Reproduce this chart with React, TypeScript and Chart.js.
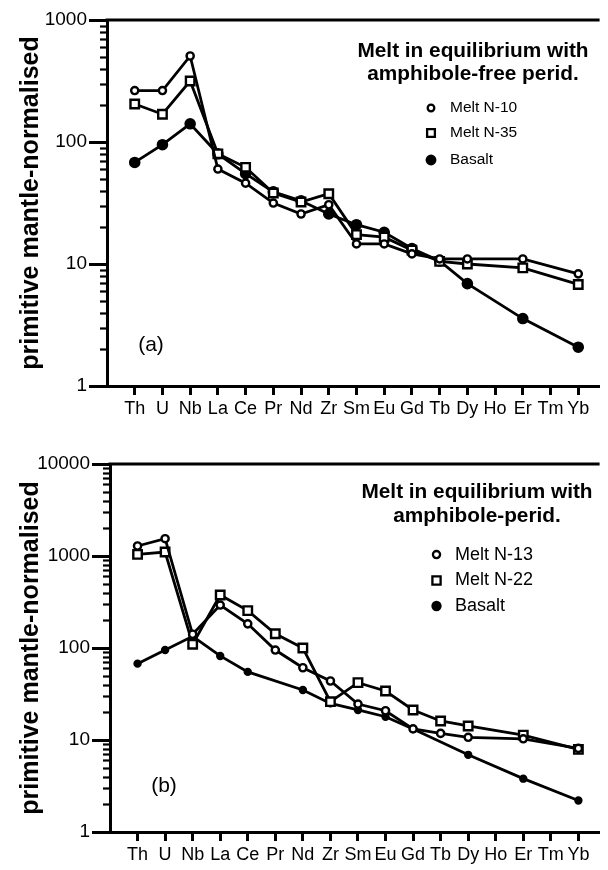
import { useEffect, useRef } from 'react';
import { Chart, registerables } from 'chart.js';

Chart.register(...registerables);

const FONT = "'Liberation Sans', Arial, Helvetica, sans-serif";

// Element order of the spider diagram (x axis)
const elements = ['Th', 'U', 'Nb', 'La', 'Ce', 'Pr', 'Nd', 'Zr', 'Sm', 'Eu', 'Gd', 'Tb', 'Dy', 'Ho', 'Er', 'Tm', 'Yb'];

// (a) melts in equilibrium with amphibole-free peridotite
const meltN10 = [264, 264, 507, 60, 46, 31.6, 25.7, 30.6, 14.6, 14.6, 12.1, 11, 11, null, 11, null, 8.3];
const meltN35 = [205, 169, 316, 80, 62, 38.2, 32.2, 37.7, 17.4, 16.6, 13, 10.5, 10, null, 9.3, null, 6.8];
const basaltA = [68, 95, 141, 80, 55, 39, 33, 25.7, 21, 18.2, 13.4, 10.6, 6.9, null, 3.57, null, 2.08];

// (b) melts in equilibrium with amphibole peridotite
const meltN13 = [1285, 1541, 141, 293, 183, 95, 61, 43.8, 24.6, 20.8, 13.2, 11.8, 10.7, null, 10.3, null, 8.1];
const meltN22 = [1042, 1104, 110, 377, 255, 143, 100, 26.1, 42, 34.1, 21.2, 16.1, 14.2, null, 11.3, null, 7.9];
const basaltB = [67.6, 95, 134, 82, 55, null, 35, 25, 21.2, 17.9, 13.2, null, 6.9, null, 3.8, null, 2.2];

const yTicksA = [1, 10, 100, 1000];
const yTicksB = [1, 10, 100, 1000, 10000];

const yTitle = 'primitive mantle-normalised';

type Marker = 'open-circle' | 'open-square' | 'dot';

type Series = { label: string; values: (number | null)[]; marker: Marker; radius: number; legendRadius: number };

type PanelSpec = {
  top: number;
  height: number;
  axisLeft: number;
  plotTop: number;
  plotBottom: number;
  yTicks: number[];
  series: Series[];
  heading: string[];
  headingX: number;
  headingY: number[];
  legendMarkX: number;
  legendTextX: number;
  legendY: number[];
  legendFontSize: number;
  tag: string;
  tagX: number;
  tagY: number;
};

const panels: PanelSpec[] = [
  {
    top: 0,
    height: 430,
    axisLeft: 107,
    plotTop: 20,
    plotBottom: 386,
    yTicks: yTicksA,
    series: [
      { label: 'Melt N-10', values: meltN10, marker: 'open-circle', radius: 3.6, legendRadius: 3.3 },
      { label: 'Melt N-35', values: meltN35, marker: 'open-square', radius: 6, legendRadius: 5.5 },
      { label: 'Basalt', values: basaltA, marker: 'dot', radius: 4.6, legendRadius: 4.3 },
    ],
    heading: ['Melt in equilibrium with', 'amphibole-free perid.'],
    headingX: 473,
    headingY: [51, 74],
    legendMarkX: 431,
    legendTextX: 450,
    legendY: [108, 133, 160],
    legendFontSize: 15.5,
    tag: '(a)',
    tagX: 151,
    tagY: 345,
  },
  {
    top: 430,
    height: 440,
    axisLeft: 110,
    plotTop: 34,
    plotBottom: 402,
    yTicks: yTicksB,
    series: [
      { label: 'Melt N-13', values: meltN13, marker: 'open-circle', radius: 3.6, legendRadius: 3.6 },
      { label: 'Melt N-22', values: meltN22, marker: 'open-square', radius: 6, legendRadius: 5.8 },
      { label: 'Basalt', values: basaltB, marker: 'dot', radius: 3, legendRadius: 4 },
    ],
    heading: ['Melt in equilibrium with', 'amphibole-perid.'],
    headingX: 477,
    headingY: [62, 86],
    legendMarkX: 436.5,
    legendTextX: 455,
    legendY: [124.6, 150.5, 176],
    legendFontSize: 18,
    tag: '(b)',
    tagX: 164,
    tagY: 356,
  },
];

function drawMarker(ctx: CanvasRenderingContext2D, marker: Marker, x: number, y: number, r: number) {
  ctx.save();
  ctx.strokeStyle = '#000';
  ctx.lineWidth = 2.3;
  ctx.fillStyle = marker === 'dot' ? '#000' : '#fff';
  ctx.beginPath();
  if (marker === 'open-square') {
    const s = r * Math.SQRT1_2;
    ctx.rect(x - s, y - s, 2 * s, 2 * s);
  } else {
    ctx.arc(x, y, r, 0, Math.PI * 2);
  }
  ctx.fill();
  ctx.stroke();
  ctx.restore();
}

// Minor log ticks, the frame's top edge, the heading, legend and panel tag
const decorPlugin = {
  id: 'decor',
  afterDraw(chart: any, _args: any, opts: any) {
    const spec: PanelSpec = opts.spec;
    const { ctx, chartArea } = chart;
    const y = chart.scales.y;
    ctx.save();
    ctx.strokeStyle = '#000';
    ctx.lineCap = 'butt';

    // minor ticks on the log axis
    ctx.lineWidth = 2.2;
    const maxV = spec.yTicks[spec.yTicks.length - 1];
    for (let d = 1; d < maxV; d *= 10) {
      for (let m = 2; m <= 9; m++) {
        const py = Math.round(y.getPixelForValue(m * d)) + 0.5;
        ctx.beginPath();
        ctx.moveTo(chartArea.left - 7, py);
        ctx.lineTo(chartArea.left, py);
        ctx.stroke();
      }
    }

    // top edge of the frame
    ctx.lineWidth = 3;
    ctx.beginPath();
    ctx.moveTo(chartArea.left - 1.5, chartArea.top);
    ctx.lineTo(chartArea.right, chartArea.top);
    ctx.stroke();

    // heading
    ctx.fillStyle = '#000';
    ctx.textAlign = 'center';
    ctx.textBaseline = 'middle';
    ctx.font = `bold 20.8px ${FONT}`;
    spec.heading.forEach((line, i) => ctx.fillText(line, spec.headingX, spec.headingY[i]));

    // legend
    ctx.textAlign = 'left';
    ctx.font = `${spec.legendFontSize}px ${FONT}`;
    spec.series.forEach((s, i) => {
      drawMarker(ctx, s.marker, spec.legendMarkX, spec.legendY[i], s.legendRadius);
      ctx.fillStyle = '#000';
      ctx.fillText(s.label, spec.legendTextX, spec.legendY[i]);
    });

    // panel tag
    ctx.textAlign = 'center';
    ctx.font = `21px ${FONT}`;
    ctx.fillText(spec.tag, spec.tagX, spec.tagY);
    ctx.restore();
  },
};

function buildChart(canvas: HTMLCanvasElement, spec: PanelSpec) {
  const datasets = spec.series.map((s) => ({
    label: s.label,
    data: elements
      .map((_, i) => ({ x: i, y: s.values[i] }))
      .filter((p) => p.y !== null),
    borderColor: '#000',
    borderWidth: 2.8,
    pointStyle: s.marker === 'open-square' ? 'rect' : 'circle',
    pointRadius: s.radius,
    pointBorderWidth: 2.4,
    pointBorderColor: '#000',
    pointBackgroundColor: s.marker === 'dot' ? '#000' : '#fff',
    tension: 0,
    fill: false,
  }));

  return new Chart(canvas, {
    type: 'line',
    data: { datasets },
    plugins: [decorPlugin],
    options: {
      animation: false,
      responsive: false,
      devicePixelRatio: 1,
      layout: { padding: { top: spec.plotTop, right: 0, left: 0, bottom: 0 } },
      plugins: {
        legend: { display: false },
        tooltip: { enabled: false },
        decor: { spec },
      } as any,
      scales: {
        x: {
          type: 'linear',
          min: -1,
          max: 16.77,
          afterBuildTicks: (scale: any) => {
            scale.ticks = elements.map((_, i) => ({ value: i }));
          },
          afterFit: (scale: any) => {
            scale.height = spec.height - spec.plotBottom;
          },
          grid: {
            drawOnChartArea: false,
            drawTicks: true,
            tickLength: 9,
            tickWidth: 3,
            tickColor: '#000',
          },
          border: { display: true, width: 3, color: '#000' },
          ticks: {
            autoSkip: false,
            maxRotation: 0,
            padding: 3,
            color: '#000',
            font: { family: FONT, size: 18 },
            callback: (v: any) => elements[Number(v)] ?? '',
          },
        },
        y: {
          type: 'logarithmic',
          min: spec.yTicks[0],
          max: spec.yTicks[spec.yTicks.length - 1],
          afterBuildTicks: (scale: any) => {
            scale.ticks = spec.yTicks.map((v) => ({ value: v, major: true }));
          },
          afterFit: (scale: any) => {
            scale.width = spec.axisLeft;
          },
          grid: {
            drawOnChartArea: false,
            drawTicks: true,
            tickLength: 18,
            tickWidth: 3,
            tickColor: '#000',
          },
          border: { display: true, width: 3, color: '#000' },
          title: {
            display: true,
            text: yTitle,
            color: '#000',
            font: { family: FONT, size: 25, weight: 'bold' },
            padding: { top: 16, bottom: 0 },
          },
          ticks: {
            autoSkip: false,
            padding: 2,
            color: '#000',
            font: { family: FONT, size: 19 },
            callback: (v: any) => String(v),
          },
        },
      },
    } as any,
  });
}

function Panel({ spec }: { spec: PanelSpec }) {
  const ref = useRef<HTMLCanvasElement | null>(null);
  useEffect(() => {
    if (!ref.current) return;
    const chart = buildChart(ref.current, spec);
    return () => chart.destroy();
  }, [spec]);
  return (
    <canvas
      ref={ref}
      width={608}
      height={spec.height}
      style={{ position: 'absolute', left: 0, top: spec.top, width: 608, height: spec.height, display: 'block' }}
    />
  );
}

export default function App() {
  return (
    <div style={{ position: 'absolute', left: 0, top: 0, width: 608, height: 870, background: '#fff', overflow: 'hidden' }}>
      {panels.map((p) => (
        <Panel key={p.tag} spec={p} />
      ))}
    </div>
  );
}
